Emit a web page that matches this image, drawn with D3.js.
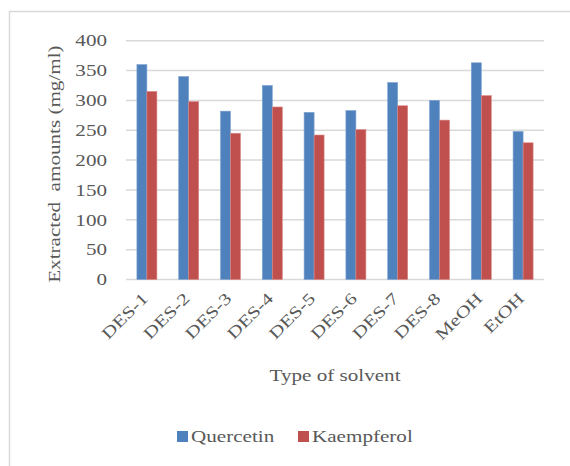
<!DOCTYPE html>
<html>
<head>
<meta charset="utf-8">
<script src="https://cdn.jsdelivr.net/npm/d3@7"></script>
<style>
  html, body { margin: 0; padding: 0; background: #fff; }
  svg { display: block; }
  text { font-family: "Liberation Serif", "Times New Roman", serif; fill: #595959; }
</style>
</head>
<body>
<svg id="chart" width="570" height="466"></svg>
<script>
// Extraction yields per solvent (mg/ml)
const solvents = ["DES-1", "DES-2", "DES-3", "DES-4", "DES-5", "DES-6", "DES-7", "DES-8", "MeOH", "EtOH"];
const seriesNames = ["Quercetin", "Kaempferol"];
const quercetin = [360, 340, 282, 325, 280, 283, 330, 300, 363, 248];
const kaempferol = [315, 298, 245, 289, 242, 251, 291, 267, 308, 229];
const yTicks = [0, 50, 100, 150, 200, 250, 300, 350, 400];
const colors = ["#4f81bd", "#c0504d"];

const FONT = "'Liberation Serif', 'Times New Roman', serif";
const FS = 16.5;      // base font size
const SX = 1.28;      // horizontal glyph stretch of the chart's typeface

const svg = d3.select("#chart");
const W = 570, H = 466;
const margin = { left: 126, right: 26, top: 40.7, bottom: 186.5 };
const plotW = W - margin.left - margin.right;
const plotH = H - margin.top - margin.bottom;

// outer chart frame
svg.append("rect")
  .attr("x", 9.5).attr("y", 11.5)
  .attr("width", 600).attr("height", 500)
  .attr("fill", "#fff").attr("stroke", "#d9d9d9").attr("stroke-width", 1.5);

const g = svg.append("g").attr("transform", `translate(${margin.left},${margin.top})`);

const x = d3.scaleBand().domain(solvents).range([0, plotW]).paddingInner(0).paddingOuter(0);
const y = d3.scaleLinear().domain([0, 400]).range([plotH, 0]);
const xSub = d3.scaleBand().domain(seriesNames).range([x.bandwidth() / 2 - 10, x.bandwidth() / 2 + 10]);

// horizontal gridlines
g.append("g").selectAll("line").data(yTicks).join("line")
  .attr("x1", 0).attr("x2", plotW)
  .attr("y1", d => y(d)).attr("y2", d => y(d))
  .attr("stroke", "#d9d9d9").attr("stroke-width", 1.5);

// y axis labels
const yAxis = d3.axisLeft(y).tickValues(yTicks).tickSize(0).tickPadding(19);
const ya = g.append("g").call(yAxis);
ya.select(".domain").remove();
ya.selectAll("text")
  .style("font-family", FONT)
  .style("font-size", FS + "px").attr("fill", "#595959")
  .attr("x", -19 / SX)
  .attr("transform", `scale(${SX},1)`);

// bars
const data = solvents.map((s, i) => ({ s, vals: [quercetin[i], kaempferol[i]] }));
const groups = g.append("g").selectAll("g").data(data).join("g")
  .attr("transform", d => `translate(${x(d.s)},0)`);
groups.selectAll("rect").data(d => d.vals.map((v, j) => ({ v, k: seriesNames[j], j })))
  .join("rect")
  .attr("x", d => xSub(d.k))
  .attr("width", xSub.bandwidth())
  .attr("y", d => y(d.v))
  .attr("height", d => y(0) - y(d.v))
  .attr("fill", d => colors[d.j])
  .attr("stroke", d => d.j === 0 ? "#7fa3d1" : "#d98886")
  .attr("stroke-width", 0.6);

// x axis labels, rotated
const xAxis = d3.axisBottom(x).tickSize(0).tickPadding(0);
const xa = g.append("g").attr("transform", `translate(0,${plotH})`).call(xAxis);
xa.select(".domain").remove();
xa.selectAll("text")
  .style("font-family", FONT)
  .style("font-size", FS + "px").attr("fill", "#595959")
  .attr("text-anchor", "end")
  .attr("y", 0)
  .attr("dy", 0)
  .attr("transform", `translate(2,20) rotate(-45) scale(${SX},1)`);

// text helper with the same stretch
function label(parent, tx, ty, rot, str, anchor) {
  return parent.append("text")
    .attr("transform", `translate(${tx},${ty}) rotate(${rot}) scale(${SX},1)`)
    .attr("text-anchor", anchor)
    .style("font-size", FS + "px")
    .attr("xml:space", "preserve")
    .text(str);
}

// axis titles
label(svg, 60, margin.top + plotH / 2 + 4, -90, "Extracted  amounts (mg/ml)", "middle");
label(svg, margin.left + plotW / 2, 381, 0, "Type of solvent", "middle");

// legend
const legend = svg.append("g").attr("transform", "translate(177,436)");
const legItems = [{ name: seriesNames[0], c: colors[0], x: 0 }, { name: seriesNames[1], c: colors[1], x: 121 }];
legItems.forEach(it => {
  legend.append("rect").attr("x", it.x).attr("y", -5).attr("width", 11).attr("height", 11).attr("fill", it.c);
  label(legend, it.x + 14, 6, 0, it.name, "start");
});
</script>
</body>
</html>
